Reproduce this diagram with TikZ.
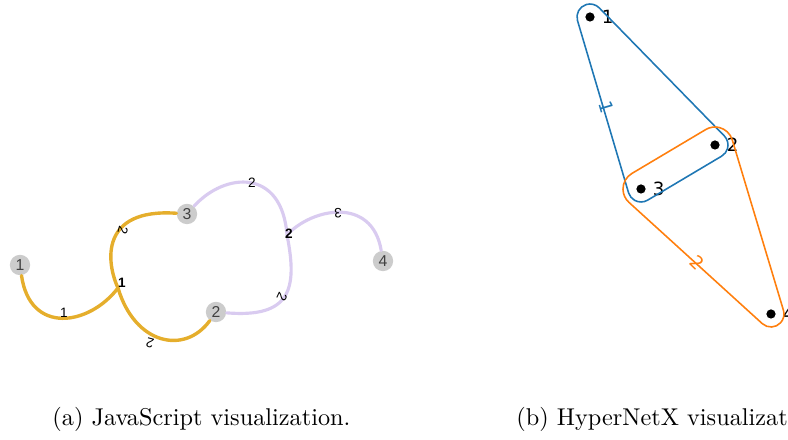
\documentclass[tikz,border=0pt]{standalone}
\usepackage{fontspec}
\newfontfamily\jsfont{Liberation Sans}
\newfontfamily\hnxfont{DejaVu Sans}
\usetikzlibrary{positioning,calc}

\definecolor{hyperyellow}{RGB}{229,174,44}
\definecolor{hyperpurple}{RGB}{217,203,240}
\definecolor{mplblue}{RGB}{31,119,180}
\definecolor{mplorange}{RGB}{255,127,14}

\begin{document}
\begin{tikzpicture}[x=0.412pt,y=0.412pt,
    vertex/.style={circle,fill=black!20,draw=none,minimum size=8.4pt,inner sep=0pt,text=black!75,font=\jsfont\fontsize{6.5}{6.5}\selectfont},
    yedge/.style={hyperyellow,line width=1.4pt,line cap=round},
    pedge/.style={hyperpurple,line width=1.3pt,line cap=round},
    elabel/.style={inner sep=0pt,font=\jsfont\fontsize{5.6}{5.6}\selectfont},
    hlabel/.style={inner sep=0pt,font=\jsfont\bfseries\fontsize{5.6}{5.6}\selectfont},
    dot/.style={circle,fill=black,minimum size=3.8pt,inner sep=0pt},
    dotlabel/.style={inner sep=0pt,font=\hnxfont\fontsize{7.5}{7.5}\selectfont},
    blueedge/.style={mplblue,line width=0.65pt},
    orangeedge/.style={mplorange,line width=0.65pt}]
    \useasboundingbox (0,0) rectangle (788,-440);
    % (a) javascript view
    \node[vertex] (v1) at (20,-265) {1};
    \node[vertex] (v3) at (187,-214) {3};
    \node[vertex] (v2) at (216,-312) {2};
    \node[vertex] (v4) at (383,-261) {4};
    \coordinate (j1) at (118,-288);
    \coordinate (j2) at (287,-235);
    \draw[yedge] (v1) .. controls (30,-335) and (89,-326) .. (j1);
    \draw[yedge] (v3) .. controls (100,-208) and (106,-262) .. (j1);
    \draw[yedge] (j1) .. controls (135,-345) and (185,-355) .. (v2);
    \draw[pedge] (v3) .. controls (225,-172) and (282,-168) .. (j2);
    \draw[pedge] (j2) .. controls (298,-290) and (290,-318) .. (v2);
    \draw[pedge] (j2) .. controls (312,-208) and (372,-196) .. (v4);
    \node[hlabel] (e1) at (122,-283) {1};
    \node[hlabel] (e2) at (289,-234) {2};
    \node[elabel] (a1) at (64,-313) {1};
    \node[elabel,rotate=-105] (a2) at (123,-230) {2};
    \node[elabel,rotate=165] (a3) at (150,-343) {2};
    \node[elabel] (a4) at (252,-183) {2};
    \node[elabel,rotate=-115] (a5) at (282,-297) {2};
    \node[elabel,rotate=180] (a6) at (338,-213) {3};
    % (b) hypernetx view
    \node[dot] (h1) at (590,-17) {};
    \node[dot] (h2) at (715,-145) {};
    \node[dot] (h3) at (641,-189) {};
    \node[dot] (h4) at (771,-314) {};
    \node[dotlabel,right=2.6pt of h1] (t1) {1};
    \node[dotlabel,right=2.6pt of h2] (t2) {2};
    \node[dotlabel,right=2.6pt of h3] (t3) {3};
    \node[dotlabel,right=2.6pt of h4] (t4) {4};
    \draw[blueedge] ($(h1.center)+(44.33:13)$) -- ($(h2.center)+(44.33:13)$)
        arc[start angle=44.33,end angle=-59.26,radius=13] -- ($(h3.center)+(-59.26:13)$)
        arc[start angle=-59.26,end angle=-163.48,radius=13] -- ($(h1.center)+(196.52:13)$)
        arc[start angle=196.52,end angle=44.33,radius=13] -- cycle;
    \draw[orangeedge] ($(h2.center)+(120.74:18)$) -- ($(h3.center)+(120.74:18)$)
        arc[start angle=120.74,end angle=227.71,radius=18] -- ($(h4.center)+(227.71:13)$)
        arc[start angle=227.71,end angle=376.72,radius=13] -- ($(h2.center)+(16.72:18)$)
        arc[start angle=16.72,end angle=120.74,radius=18] -- cycle;
    \node[dotlabel,text=mplblue,rotate=-73.5] (b1) at (607,-107) {1};
    \node[dotlabel,text=mplorange,rotate=-43.9] (b2) at (697,-263) {2};
    % captions
    \node[anchor=base west,inner sep=0pt] (capa) at (52,-426) {(a) JavaScript visualization.};
    \node[anchor=base west,inner sep=0pt] (capb) at (516,-426) {(b) HyperNetX visualization.};
\end{tikzpicture}
\end{document}
